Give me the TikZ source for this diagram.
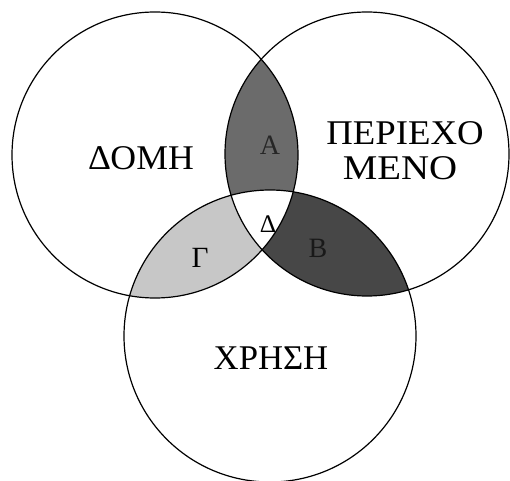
\documentclass[tikz,border=0pt]{standalone}
\usepackage{fontspec}
\setmainfont{Liberation Serif}
\begin{document}
\begin{tikzpicture}[x=0.75pt,y=-0.75pt,
  lbl/.style={font=\fontsize{26}{30}\selectfont, inner sep=0pt},
  small/.style={font=\fontsize{21}{24}\selectfont, inner sep=0pt},
  ring/.style={draw=black, line width=0.9pt}]
\useasboundingbox (0,0) rectangle (510,481);
\coordinate (L) at (155,155);
\coordinate (R) at (367,154);
\coordinate (B) at (270,336);
\def\rL{107.25pt}\def\rR{106.5pt}\def\rB{109.5pt}
% A region (left & right)
\begin{scope}
  \clip (L) circle[radius=\rL];
  \fill[black!58] (R) circle[radius=\rR];
\end{scope}
% B region (right & bottom)
\begin{scope}
  \clip (R) circle[radius=\rR];
  \fill[black!72] (B) circle[radius=\rB];
\end{scope}
% Gamma region (left & bottom)
\begin{scope}
  \clip (L) circle[radius=\rL];
  \fill[black!22] (B) circle[radius=\rB];
\end{scope}
% Delta region (all three)
\begin{scope}
  \clip (L) circle[radius=\rL];
  \clip (R) circle[radius=\rR];
  \fill[white] (B) circle[radius=\rB];
\end{scope}
\draw[ring] (L) circle[radius=\rL];
\draw[ring] (R) circle[radius=\rR];
\draw[ring] (B) circle[radius=\rB];
\node[lbl] (domi) at (141,158) {\scalebox{1.03}[1]{ΔΟΜΗ}};
\node[lbl] (peri) at (405,133) {\scalebox{1.06}[1]{ΠΕΡΙΕΧΟ}};
\node[lbl] (meno) at (400,168) {\scalebox{1.12}[1]{ΜΕΝΟ}};
\node[lbl] (xrisi) at (271,358) {ΧΡΗΣΗ};
\node[small, font=\fontsize{19}{22}\selectfont] (delta) at (268,224) {Δ};
\node[small, font=\fontsize{22}{25}\selectfont] (gamma) at (200,258) {Γ};
\node[small, text=black!85] (alpha) at (270,145) {Α};
\node[small, text=black!90] (beta) at (318,248) {Β};
\end{tikzpicture}
\end{document}
